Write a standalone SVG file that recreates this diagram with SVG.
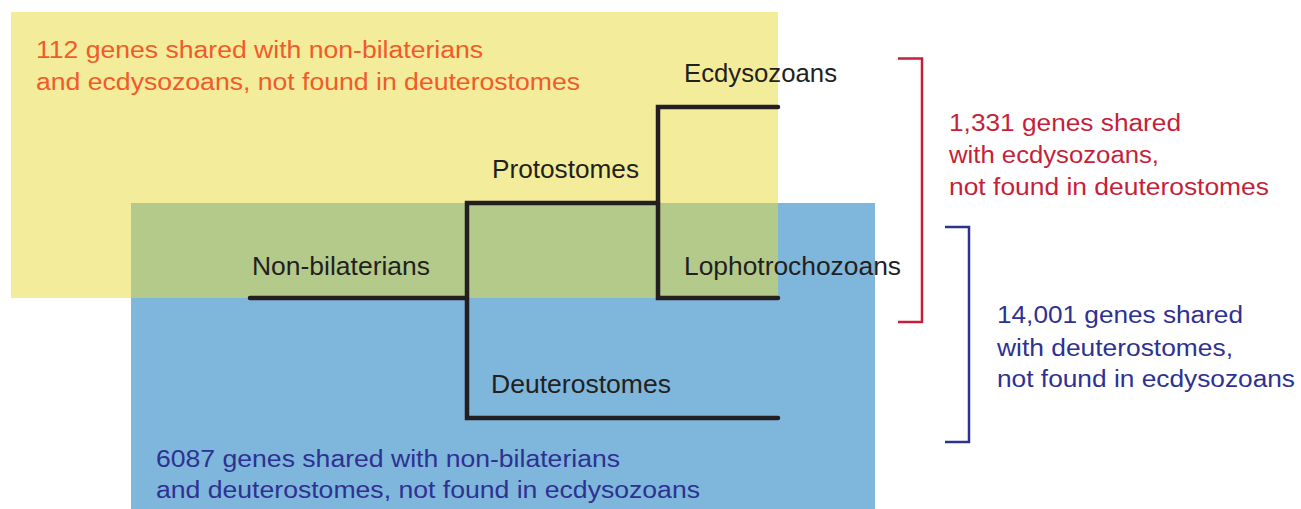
<svg xmlns="http://www.w3.org/2000/svg" width="1301" height="509" viewBox="0 0 1301 509">
<style>
text{font-family:"Liberation Sans",Arial,sans-serif}
.lbl{font-size:25px;fill:#231f20}
.ann{font-size:23.5px}
.or{fill:#f15a2b}
.rd{fill:#c61f3a}
.bl{fill:#2e3192}
.tree{fill:none;stroke:#231f20;stroke-width:4.5;stroke-linecap:round;stroke-linejoin:miter}
</style>
<rect width="1301" height="509" fill="#ffffff"/>
<g id="regions">
<rect x="11" y="12" width="767" height="286" fill="#f3ec9a"/>
<rect x="131" y="203" width="744" height="306" fill="#7fb6db"/>
<rect x="131" y="203" width="647" height="95" fill="#b4ca8b"/>
</g>
<g id="connectors">
<path class="tree" d="M250 298 H467"/>
<path class="tree" d="M658 203 H467 V418 H778"/>
<path class="tree" d="M778 107 H658 V298 H778"/>
</g>
<g id="node-nonbilaterians"><text class="lbl" x="252" y="275" textLength="178" lengthAdjust="spacingAndGlyphs">Non-bilaterians</text></g>
<g id="node-protostomes"><text class="lbl" x="492" y="178" textLength="147" lengthAdjust="spacingAndGlyphs">Protostomes</text></g>
<g id="node-ecdysozoans"><text class="lbl" x="684" y="82" textLength="153" lengthAdjust="spacingAndGlyphs">Ecdysozoans</text></g>
<g id="node-lophotrochozoans"><text class="lbl" x="684" y="275" textLength="217" lengthAdjust="spacingAndGlyphs">Lophotrochozoans</text></g>
<g id="node-deuterostomes"><text class="lbl" x="491" y="393" textLength="180" lengthAdjust="spacingAndGlyphs">Deuterostomes</text></g>
<g id="note-112">
<text class="ann or" x="36" y="58" textLength="447" lengthAdjust="spacingAndGlyphs">112 genes shared with non-bilaterians</text>
<text class="ann or" x="36" y="90" textLength="544" lengthAdjust="spacingAndGlyphs">and ecdysozoans, not found in deuterostomes</text>
</g>
<g id="note-6087">
<text class="ann bl" x="156" y="467" textLength="464" lengthAdjust="spacingAndGlyphs">6087 genes shared with non-bilaterians</text>
<text class="ann bl" x="156" y="498" textLength="544" lengthAdjust="spacingAndGlyphs">and deuterostomes, not found in ecdysozoans</text>
</g>
<g id="bracket-1331">
<path d="M898 58.5 H922 V322 H898" fill="none" stroke="#c61f3a" stroke-width="2.5"/>
<text class="ann rd" x="949" y="131" textLength="232" lengthAdjust="spacingAndGlyphs">1,331 genes shared</text>
<text class="ann rd" x="949" y="163" textLength="210" lengthAdjust="spacingAndGlyphs">with ecdysozoans,</text>
<text class="ann rd" x="949" y="195" textLength="320" lengthAdjust="spacingAndGlyphs">not found in deuterostomes</text>
</g>
<g id="bracket-14001">
<path d="M945 227 H969 V442 H945" fill="none" stroke="#2e3192" stroke-width="2.5"/>
<text class="ann bl" x="997" y="323" textLength="246" lengthAdjust="spacingAndGlyphs">14,001 genes shared</text>
<text class="ann bl" x="997" y="356" textLength="236" lengthAdjust="spacingAndGlyphs">with deuterostomes,</text>
<text class="ann bl" x="997" y="387" textLength="298" lengthAdjust="spacingAndGlyphs">not found in ecdysozoans</text>
</g>
</svg>
